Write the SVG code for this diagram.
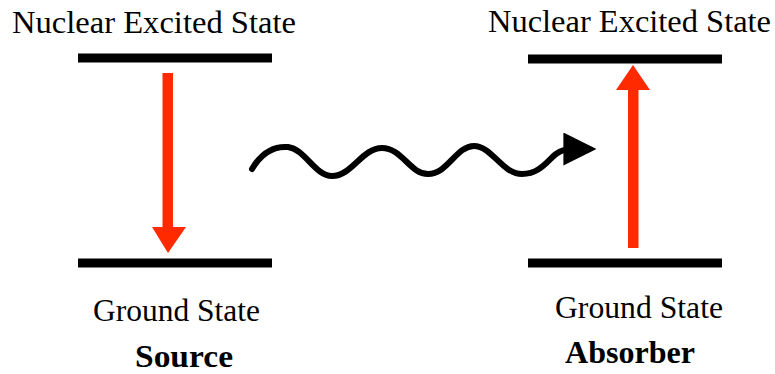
<svg xmlns="http://www.w3.org/2000/svg" width="775" height="374" viewBox="0 0 775 374">
<defs>
<style>
.lbl{font-family:"Liberation Serif","Times New Roman",serif;font-size:31px;fill:#000}
.b{font-weight:bold}
.lvl{stroke:#000;stroke-width:9;fill:none}
.red{fill:#ff2a00}
</style>
<marker id="wh" viewBox="0 0 10 10" refX="2" refY="5" markerWidth="5.5" markerHeight="5.5" orient="auto" markerUnits="strokeWidth">
<path d="M0,0 L10,5 L0,10 Z" fill="#000"/>
</marker>
</defs>
<rect width="775" height="374" fill="#fff"/>
<g id="source">
<text class="lbl" x="12" y="33" textLength="284" lengthAdjust="spacingAndGlyphs">Nuclear Excited State</text>
<line class="lvl" x1="78" y1="58" x2="272" y2="58"/>
<line class="lvl" x1="78" y1="263" x2="272" y2="263"/>
<path class="red" d="M162.5,73 H173 V227 H186 L168,253 L152,227 H162.5 Z"/>
<text class="lbl" x="93" y="321" textLength="167" lengthAdjust="spacingAndGlyphs">Ground State</text>
<text class="lbl b" x="135" y="367" textLength="98" lengthAdjust="spacingAndGlyphs">Source</text>
</g>
<g id="absorber">
<text class="lbl" x="488" y="32" textLength="283" lengthAdjust="spacingAndGlyphs">Nuclear Excited State</text>
<line class="lvl" x1="528" y1="59" x2="722" y2="59"/>
<line class="lvl" x1="528" y1="263" x2="722" y2="263"/>
<path class="red" d="M628,248 H638.5 V90 H650 L633,65 L616,90 H628 Z"/>
<text class="lbl" x="555" y="318" textLength="168" lengthAdjust="spacingAndGlyphs">Ground State</text>
<text class="lbl b" x="565" y="363" textLength="130" lengthAdjust="spacingAndGlyphs">Absorber</text>
</g>
<g id="connectors">
<path d="M252,169 C262,152 275,146 288,147 C305,149 315,176 332,176 C352,176 362,148 382,148 C402,148 410,174 428,174 C448,174 456,146 474,146 C492,146 502,174 522,174 C540,174 548,160 556,154 C562,150 566,149 570,149" fill="none" stroke="#000" stroke-width="6" stroke-linecap="round" marker-end="url(#wh)"/>
</g>
</svg>
